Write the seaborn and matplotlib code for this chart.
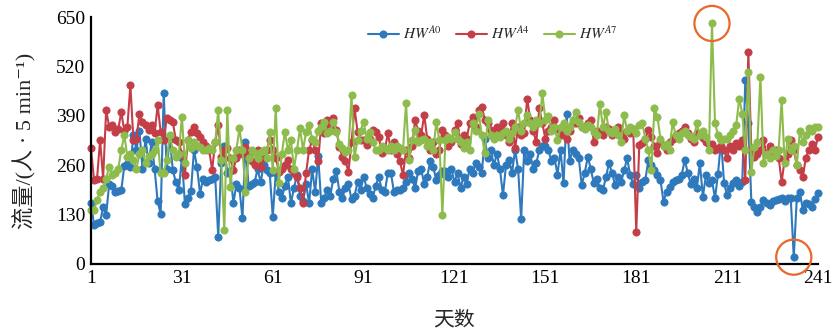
import numpy as np
import pandas as pd
import matplotlib
matplotlib.use("Agg")
import matplotlib.pyplot as plt
import seaborn as sns

days = list(range(1, 242))

hw_a0 = [
    160, 103, 107, 110, 150, 130, 210, 205, 190, 192,
    195, 258, 262, 255, 340, 300, 350, 250, 330, 265,
    320, 250, 165, 132, 450, 250, 330, 248, 215, 195,
    280, 158, 175, 192, 300, 255, 185, 225, 215, 220,
    225, 230, 72, 265, 310, 240, 245, 160, 210, 200,
    120, 320, 205, 210, 215, 250, 215, 260, 248, 240,
    124, 240, 190, 175, 205, 230, 160, 200, 235, 180,
    165, 210, 160, 250, 190, 285, 160, 175, 195, 180,
    225, 245, 190, 175, 200, 210, 170, 180, 215, 195,
    230, 200, 185, 175, 205, 230, 195, 190, 240, 240,
    190, 195, 195, 200, 215, 240, 225, 200, 245, 250,
    210, 230, 270, 255, 220, 235, 245, 245, 230, 250,
    215, 240, 200, 230, 210, 250, 240, 265, 255, 240,
    330, 280, 300, 260, 290, 250, 181, 260, 275, 240,
    300, 250, 118, 300, 270, 290, 250, 265, 300, 310,
    310, 300, 270, 280, 235, 300, 212, 395, 270, 300,
    290, 280, 208, 240, 282, 250, 212, 225, 200, 194,
    230, 265, 240, 208, 230, 215, 247, 278, 234, 210,
    235, 199, 215, 221, 274, 260, 247, 235, 221, 164,
    190, 203, 215, 221, 225, 234, 274, 240, 210, 225,
    200, 265, 177, 234, 212, 220, 173, 238, 326, 212,
    181, 200, 212, 221, 205, 215, 484, 370, 164, 150,
    138, 150, 168, 160, 155, 165, 168, 170, 173, 165,
    175, 173, 18, 173, 190, 142, 160, 159, 151, 170,
    186,
]

hw_a4 = [
    304, 221, 225, 326, 225, 405, 361, 365, 348, 355,
    400, 350, 360, 471, 326, 330, 396, 374, 366, 352,
    366, 345, 418, 348, 326, 383, 380, 374, 326, 322,
    290, 234, 326, 348, 361, 344, 335, 320, 310, 300,
    248, 320, 366, 282, 300, 305, 280, 248, 280, 300,
    290, 309, 290, 270, 260, 300, 256, 280, 300, 326,
    300, 280, 243, 250, 260, 274, 250, 240, 230, 200,
    160, 240, 300, 326, 300, 270, 370, 345, 379, 360,
    383, 352, 309, 282, 270, 243, 320, 410, 348, 326,
    326, 313, 330, 352, 348, 335, 291, 300, 344, 300,
    320, 290, 270, 234, 300, 280, 310, 379, 350, 340,
    392, 330, 300, 320, 290, 300, 352, 340, 310, 320,
    352, 370, 317, 340, 330, 370, 387, 360, 405, 414,
    380, 370, 352, 340, 360, 352, 370, 340, 320, 370,
    304, 360, 340, 345, 435, 380, 350, 320, 410, 370,
    330, 350, 360, 380, 355, 340, 360, 330, 350, 370,
    370, 383, 361, 360, 370, 380, 322, 350, 345, 340,
    361, 355, 340, 350, 361, 345, 330, 350, 344, 355,
    84, 313, 318, 330, 352, 335, 310, 291, 320, 310,
    300, 320, 330, 340, 344, 350, 361, 345, 330, 320,
    345, 340, 331, 320, 317, 317, 300, 305, 310, 300,
    278, 310, 300, 318, 310, 326, 221, 559, 300, 282,
    290, 300, 326, 290, 310, 290, 300, 280, 216, 275,
    290, 326, 300, 260, 247, 230, 280, 300, 317, 300,
    335,
]

hw_a7 = [
    142, 142, 168, 190, 200, 225, 256, 234, 240, 251,
    300, 339, 282, 290, 274, 251, 290, 300, 265, 285,
    290, 300, 326, 239, 240, 274, 339, 300, 282, 290,
    388, 265, 326, 304, 320, 310, 309, 300, 300, 305,
    300, 320, 405, 274, 89, 405, 203, 280, 300, 357,
    300, 190, 280, 300, 291, 280, 295, 300, 280, 348,
    247, 410, 212, 290, 348, 300, 326, 251, 300, 357,
    300, 348, 366, 330, 320, 350, 360, 374, 345, 350,
    374, 348, 317, 304, 295, 300, 444, 282, 326, 350,
    374, 330, 348, 320, 300, 300, 310, 305, 300, 310,
    300, 310, 305, 300, 423, 274, 326, 352, 320, 326,
    330, 310, 320, 300, 374, 326, 129, 326, 335, 330,
    348, 330, 320, 304, 320, 300, 370, 350, 396, 340,
    291, 379, 340, 330, 340, 335, 345, 350, 330, 345,
    360, 405, 350, 370, 392, 370, 360, 380, 370, 449,
    380, 390, 350, 360, 326, 360, 370, 350, 360, 380,
    400, 375, 361, 355, 365, 360, 348, 340, 422, 360,
    400, 350, 345, 355, 340, 320, 392, 350, 360, 355,
    345, 366, 370, 330, 300, 247, 410, 387, 330, 310,
    315, 300, 374, 340, 330, 345, 350, 340, 335, 330,
    370, 340, 350, 335, 300, 633, 370, 340, 326, 330,
    330, 340, 350, 366, 435, 396, 300, 505, 243, 309,
    320, 493, 265, 290, 280, 300, 285, 300, 431, 265,
    330, 300, 310, 260, 350, 320, 340, 357, 350, 361,
    360,
]

series_names = [r"$HW^{A0}$", r"$HW^{A4}$", r"$HW^{A7}$"]
series_values = [hw_a0, hw_a4, hw_a7]
colors = ["#2E78BC", "#C43E48", "#8DBB4C"]

x_ticks = [1, 31, 61, 91, 121, 151, 181, 211, 241]
y_ticks = [0, 130, 260, 390, 520, 650]

highlight = [(206, hw_a7), (233, hw_a0)]

sns.set_style("white")
plt.rcParams["font.family"] = ["Liberation Serif", "DejaVu Serif", "Noto Sans CJK SC"]
plt.rcParams["mathtext.fontset"] = "stix"

fig = plt.figure(figsize=(8.35, 3.31), dpi=100)
ax = fig.add_axes([91 / 835, 1 - 264 / 331, (818 - 91) / 835, (264 - 17) / 331])

for name, vals, col in zip(series_names, series_values, colors):
    df = pd.DataFrame({"day": days, "flow": vals})
    sns.lineplot(data=df, x="day", y="flow", ax=ax, color=col, marker="o",
                 markersize=5.2, markeredgecolor=col, markeredgewidth=0.6,
                 linewidth=1.5, label=name, clip_on=False)

for d, vals in highlight:
    ax.scatter([d], [vals[d - 1]], s=640, facecolors="none",
               edgecolors="#E8682A", linewidths=1.6, zorder=5, clip_on=False)

ax.set_xlim(1, 241)
ax.set_ylim(0, 650)
ax.set_xticks(x_ticks)
ax.set_yticks(y_ticks)
ax.tick_params(axis="both", direction="in", length=4, width=1.2,
               labelsize=14, colors="black", pad=4)
for s in ["top", "right"]:
    ax.spines[s].set_visible(False)
for s in ["left", "bottom"]:
    ax.spines[s].set_color("black")
    ax.spines[s].set_linewidth(1.6)

ax.set_xlabel("天数", fontsize=15, labelpad=18)
ax.set_ylabel("流量/(人 · 5 min⁻¹)", fontsize=16, labelpad=14)

leg = ax.legend(loc="center", bbox_to_anchor=(0.553, 0.935), ncol=3,
                frameon=False, fontsize=11, handlelength=2.0,
                columnspacing=0.9, handletextpad=0.3)

fig.savefig("out.png", dpi=100)
